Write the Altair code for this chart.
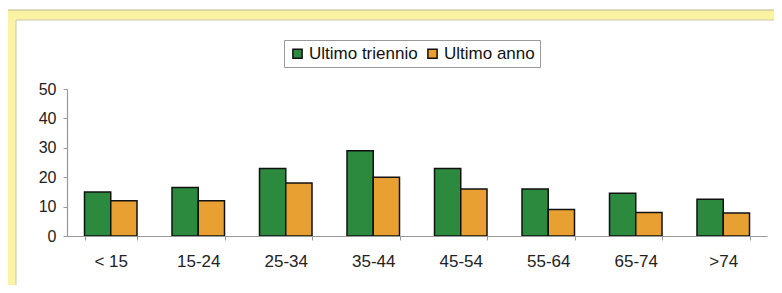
import altair as alt
import pandas as pd

ages = ["< 15", "15-24", "25-34", "35-44", "45-54", "55-64", "65-74", ">74"]
series_names = ["Ultimo triennio", "Ultimo anno"]
triennio = [15, 16.5, 23, 29, 23, 16, 14.5, 12.5]
anno = [12, 12, 18, 20, 16, 9, 8, 7.8]
colors = ["#2b8a3e", "#e8a032"]
y_ticks = [0, 10, 20, 30, 40, 50]

rows = []
for a, t, n in zip(ages, triennio, anno):
    rows.append({"age": a, "series": series_names[0], "value": t})
    rows.append({"age": a, "series": series_names[1], "value": n})
df = pd.DataFrame(rows)

FONT = "Liberation Sans"
W, H = 700, 147

one = pd.DataFrame({"a": [0]})
frame = alt.Chart(one).mark_rect(fill="#fbf3a4", stroke="#b9b590", strokeWidth=1).encode(
    x=alt.value(-60), x2=alt.value(720), y=alt.value(-79), y2=alt.value(220)
)
inner = alt.Chart(one).mark_rect(fill="#ffffff", stroke="#c8c6a8", strokeWidth=1).encode(
    x=alt.value(-51), x2=alt.value(720), y=alt.value(-69), y2=alt.value(201)
)

bars = alt.Chart(df).mark_bar(stroke="#111111", strokeWidth=1.5).encode(
    x=alt.X("age:N", sort=ages, title=None,
            scale=alt.Scale(paddingInner=0.4, paddingOuter=0.2),
            axis=alt.Axis(labelAngle=0, labelFont=FONT, labelFontSize=17, labelColor="#222222",
                          labelPadding=13, tickBand="extent", tickSize=4, tickColor="#999999",
                          domainColor="#999999", domainWidth=1.2, zindex=2)),
    xOffset=alt.XOffset("series:N", sort=series_names,
                        scale=alt.Scale(paddingInner=0, paddingOuter=0)),
    y=alt.Y("value:Q", title=None, scale=alt.Scale(domain=[0, 50], nice=False),
            axis=alt.Axis(values=y_ticks, grid=False, labelFont=FONT, labelFontSize=16,
                          labelColor="#222222", tickSize=4, tickColor="#999999",
                          domainColor="#999999", domainWidth=1.2, labelPadding=7, zindex=2)),
    color=alt.Color("series:N", sort=series_names,
                    scale=alt.Scale(domain=series_names, range=colors),
                    legend=alt.Legend(title=None, orient="none", direction="horizontal",
                                      legendX=217, legendY=-49,
                                      symbolType="square", symbolSize=85,
                                      symbolStrokeColor="#111111", symbolStrokeWidth=1.5,
                                      labelFont=FONT, labelFontSize=17, labelColor="#111111",
                                      labelOffset=3, columnPadding=6,
                                      strokeColor="#999999", padding=5, fillColor="#ffffff",
                                      zindex=2)),
)

chart = alt.layer(frame, inner, bars).properties(
    width=W, height=H,
    autosize=alt.AutoSizeParams(type="none"),
    padding={"left": 59, "top": 81, "right": 7, "bottom": 49},
    background="#ffffff",
).configure_view(stroke=None)

chart.save("out.html", embed_options={"renderer": "svg", "actions": False})
